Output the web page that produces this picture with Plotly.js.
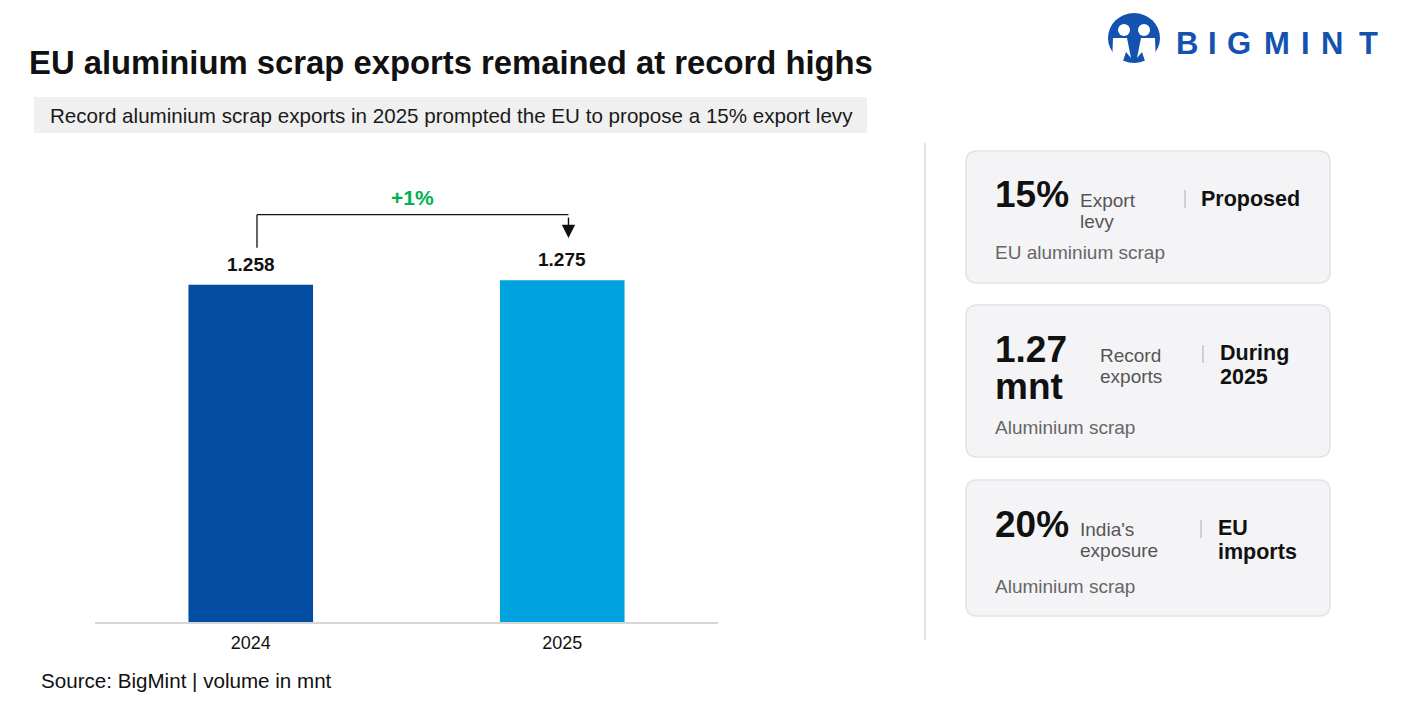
<!DOCTYPE html>
<html>
<head>
<meta charset="utf-8">
<script src="https://cdn.plot.ly/plotly-3.0.1.min.js"></script>
<style>
  html, body { margin: 0; padding: 0; background: #ffffff; }
  #chart { width: 1407px; height: 709px; }
</style>
</head>
<body>
<div id="chart"></div>
<script>
// ---- Data ----
const years = ['2024', '2025'];
const volumes = [1.258, 1.275];           // aluminium scrap exports, mnt
const barColors = ['#034ea2', '#00a3e0'];

const titleText = 'EU aluminium scrap exports remained at record highs';
const subtitleText = 'Record aluminium scrap exports in 2025 prompted the EU to propose a 15% export levy';
const sourceText = 'Source: BigMint | volume in mnt';

const cardValues = [['15%'], ['1.27', 'mnt'], ['20%']];
const cardLabels = [['Export', 'levy'], ['Record', 'exports'], ["India's", 'exposure']];
const cardTags   = [['Proposed'], ['During', '2025'], ['EU', 'imports']];
const cardNotes  = ['EU aluminium scrap', 'Aluminium scrap', 'Aluminium scrap'];

const logoLetters = ['B', 'I', 'G', 'M', 'I', 'N', 'T'];

// ---- Page geometry (pixels) ----
const W = 1407, H = 709;
const L = 95, R = 718, T = 150, B = 622;
const px = x => (x - L) / (R - L);
const py = y => (B - y) / (B - T);

const SANS = 'Liberation Sans, Arial, sans-serif';
const NARROW = 'Liberation Sans Narrow, Liberation Sans, Arial, sans-serif';

// rounded rectangle path in paper coordinates
function roundRect(x0, y0, x1, y1, r) {
  const P = (x, y) => px(x) + ',' + py(y);
  return 'M' + P(x0 + r, y0) + ' L' + P(x1 - r, y0) + ' Q' + P(x1, y0) + ' ' + P(x1, y0 + r) +
         ' L' + P(x1, y1 - r) + ' Q' + P(x1, y1) + ' ' + P(x1 - r, y1) +
         ' L' + P(x0 + r, y1) + ' Q' + P(x0, y1) + ' ' + P(x0, y1 - r) +
         ' L' + P(x0, y0 + r) + ' Q' + P(x0, y0) + ' ' + P(x0 + r, y0) + ' Z';
}

function txt(x, y, text, size, color, opts) {
  return Object.assign({
    xref: 'paper', yref: 'paper', x: px(x), y: py(y),
    xanchor: 'left', yanchor: 'middle', showarrow: false,
    text: text, font: { family: SANS, size: size, color: color }
  }, opts || {});
}

const shapes = [];
const annotations = [];

// Title and subtitle
annotations.push(txt(27, 62, '<b>' + titleText + '</b>', 32.8, '#111111'));
shapes.push({ type: 'rect', xref: 'paper', yref: 'paper', layer: 'below',
  x0: px(34), x1: px(867), y0: py(97), y1: py(133),
  fillcolor: '#f0f0f0', line: { width: 0 } });
annotations.push(txt(451, 115, subtitleText, 20.6, '#1a1a1a',
  { xanchor: 'center', font: { family: NARROW, size: 20.6, color: '#1a1a1a' } }));

// Source note
annotations.push(txt(39, 680, sourceText, 20.6, '#111111',
  { font: { family: NARROW, size: 20.6, color: '#111111' } }));

// Value labels above bars (category index on the x axis)
years.forEach((yr, i) => {
  annotations.push({
    xref: 'x', yref: 'y', x: i, y: volumes[i], yanchor: 'bottom', yshift: 8,
    showarrow: false, text: '<b>' + volumes[i].toFixed(3) + '</b>',
    font: { family: SANS, size: 19, color: '#111111' }
  });
});

// Change bracket between the two years
const peak = Math.max(...volumes);
const bracketY = peak + 0.245;
const dx = 0.02;
shapes.push({ type: 'line', xref: 'x', yref: 'y', x0: dx, x1: dx,
  y0: volumes[0] + 0.138, y1: bracketY, line: { color: '#111111', width: 1.3 } });
shapes.push({ type: 'line', xref: 'x', yref: 'y', x0: dx, x1: 1 + dx,
  y0: bracketY, y1: bracketY, line: { color: '#111111', width: 1.3 } });
annotations.push({
  xref: 'x', yref: 'y', x: 1 + dx, y: volumes[1] + 0.158,
  ax: 0, ay: -22, showarrow: true, arrowhead: 2, arrowsize: 1.9, arrowwidth: 1.4,
  arrowcolor: '#111111', standoff: 0, text: ''
});
const pct = Math.round((volumes[1] / volumes[0] - 1) * 100);
annotations.push({
  xref: 'x', yref: 'y', x: 0.5 + dx, y: bracketY, yanchor: 'bottom', yshift: 4,
  showarrow: false, text: '<b>+' + pct + '%</b>',
  font: { family: SANS, size: 21, color: '#00b050' }
});

// Divider between chart and cards
shapes.push({ type: 'line', xref: 'paper', yref: 'paper',
  x0: px(925), x1: px(925), y0: py(143), y1: py(640),
  line: { color: '#e2e2e2', width: 2 } });

// Key figure cards
const cardBoxes = [[151, 283], [305, 457], [480, 616]];
const valueY = [[194], [349, 386], [524]];
const labelX = [1078, 1098, 1078];
const labelY = [200, 355, 529];
const sepX = [1185, 1203, 1201];
const sepY = [199, 354, 529];
const tagX = [1199, 1218, 1216];
const tagY = [199, 353, 528];
const noteY = [252, 427, 586];

cardBoxes.forEach((b, i) => {
  shapes.push({ type: 'path', xref: 'paper', yref: 'paper', layer: 'below',
    path: roundRect(966, b[0], 1330, b[1], 11),
    fillcolor: '#f4f4f7', line: { color: '#e3e3e8', width: 1.5 } });
  cardValues[i].forEach((v, j) => {
    annotations.push(txt(993, valueY[i][j], '<b>' + v + '</b>', 37, '#111111'));
  });
  cardLabels[i].forEach((v, j) => {
    annotations.push(txt(labelX[i], labelY[i] + j * 21, v, 19, '#555555'));
  });
  shapes.push({ type: 'line', xref: 'paper', yref: 'paper',
    x0: px(sepX[i]), x1: px(sepX[i]), y0: py(sepY[i] - 9), y1: py(sepY[i] + 9),
    line: { color: '#cfcfd4', width: 2 } });
  cardTags[i].forEach((v, j) => {
    annotations.push(txt(tagX[i], tagY[i] + j * 24, '<b>' + v + '</b>', 21.5, '#111111'));
  });
  annotations.push(txt(993, noteY[i], cardNotes[i], 19, '#666666'));
});

// Logo: emblem and word mark
const logoBlue = '#1452b0';
shapes.push({ type: 'circle', xref: 'paper', yref: 'paper',
  x0: px(1108), x1: px(1160), y0: py(13), y1: py(63),
  fillcolor: logoBlue, line: { width: 0 } });
[[1124, 30], [1144, 30]].forEach(c => {
  shapes.push({ type: 'circle', xref: 'paper', yref: 'paper',
    x0: px(c[0] - 6), x1: px(c[0] + 6), y0: py(c[1] - 6), y1: py(c[1] + 6),
    fillcolor: '#ffffff', line: { width: 0 } });
});
const P = (x, y) => px(x) + ',' + py(y);
shapes.push({ type: 'path', xref: 'paper', yref: 'paper',
  path: 'M' + P(1113, 38) + ' L' + P(1127, 38) + ' L' + P(1131, 58) + ' L' + P(1126, 52) +
        ' L' + P(1122, 64) + ' L' + P(1112, 64) + ' Z',
  fillcolor: '#ffffff', line: { width: 0 } });
shapes.push({ type: 'path', xref: 'paper', yref: 'paper',
  path: 'M' + P(1155, 38) + ' L' + P(1141, 38) + ' L' + P(1137, 58) + ' L' + P(1142, 52) +
        ' L' + P(1146, 64) + ' L' + P(1156, 64) + ' Z',
  fillcolor: '#ffffff', line: { width: 0 } });
const letterX = [1187, 1212, 1239, 1277, 1305, 1332, 1368];
logoLetters.forEach((ch, i) => {
  annotations.push(txt(letterX[i], 44, '<b>' + ch + '</b>', 31, logoBlue, { xanchor: 'center' }));
});

const data = [{
  type: 'bar', x: years, y: volumes, width: 0.4,
  marker: { color: barColors, line: { width: 0 } },
  hoverinfo: 'none'
}];

const layout = {
  width: W, height: H,
  margin: { l: L, r: W - R, t: T, b: H - B, pad: 0 },
  paper_bgcolor: '#ffffff', plot_bgcolor: '#ffffff',
  showlegend: false,
  xaxis: {
    type: 'category', range: [-0.5, 1.5], showgrid: false, zeroline: false,
    showline: true, linecolor: '#d6d6d6', linewidth: 2, ticks: '',
    tickfont: { family: NARROW, size: 18, color: '#111111' },
    ticklabelstandoff: 3, fixedrange: true
  },
  yaxis: {
    range: [0, (B - T) / 268], visible: false, showgrid: false, zeroline: false, fixedrange: true
  },
  shapes: shapes,
  annotations: annotations
};

Plotly.newPlot('chart', data, layout, { displayModeBar: false, staticPlot: true });
</script>
</body>
</html>
